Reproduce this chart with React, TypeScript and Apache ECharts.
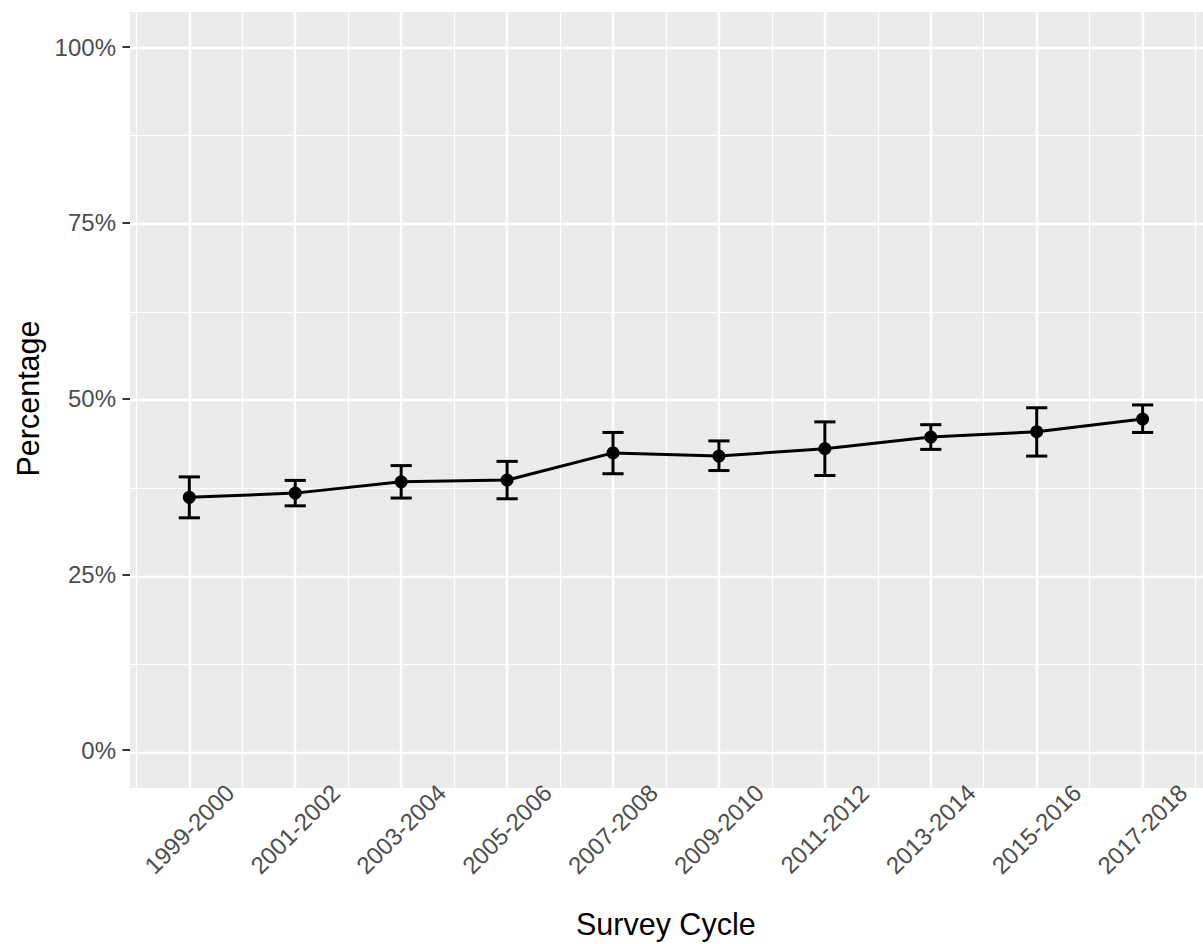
import React, { useEffect, useRef } from "react";
import * as echarts from "echarts";

// Survey cycles along the x axis
const cycles = [
  "1999-2000",
  "2001-2002",
  "2003-2004",
  "2005-2006",
  "2007-2008",
  "2009-2010",
  "2011-2012",
  "2013-2014",
  "2015-2016",
  "2017-2018",
];

// Estimated percentage per cycle with its confidence interval
const estimate = [36.2, 36.8, 38.4, 38.65, 42.5, 42.05, 43.1, 44.75, 45.5, 47.3];
const lower = [33.3, 35.0, 36.1, 36.0, 39.55, 40.0, 39.3, 43.0, 42.05, 45.4];
const upper = [39.1, 38.6, 40.7, 41.3, 45.4, 44.2, 46.9, 46.5, 48.9, 49.3];

// Axis breaks
const yMajor = [0, 25, 50, 75, 100];
const yMinor = [12.5, 37.5, 62.5, 87.5];

const FONT = "'Liberation Sans', Arial, Helvetica, sans-serif";

export default function App() {
  const ref = useRef<HTMLDivElement>(null);

  useEffect(() => {
    if (!ref.current) return;
    const chart = echarts.init(ref.current, undefined, { renderer: "svg" });

    const xPos = cycles.map((_, i) => i + 1);
    const xMajor = xPos;
    const xMinor = [0, ...xPos].map((v) => v + 0.5);

    const pointData = xPos.map((x, i) => [x, estimate[i]]);
    const barData = xPos.map((x, i) => [x, lower[i], upper[i]]);

    const major = { color: "#ffffff", width: 2.4, type: "solid" as const };
    const minor = { color: "#ffffff", width: 1.2, type: "solid" as const };

    const gridLines = [
      ...yMinor.map((v) => ({ yAxis: v, lineStyle: minor })),
      ...xMinor.map((v) => ({ xAxis: v, lineStyle: minor })),
      ...yMajor.map((v) => ({ yAxis: v, lineStyle: major })),
      ...xMajor.map((v) => ({ xAxis: v, lineStyle: major })),
    ];

    const capHalf = 0.1;

    chart.setOption({
      animation: false,
      textStyle: { fontFamily: FONT },
      grid: [
        {
          left: 130,
          top: 12,
          width: 1073,
          height: 776,
          show: true,
          backgroundColor: "#EBEBEB",
          borderWidth: 0,
        },
        {
          left: 136.35,
          top: 47,
          width: 1058.9,
          height: 705.3,
          show: false,
        },
      ],
      xAxis: [
        { type: "value", gridIndex: 0, min: 0.44, max: 10.57, show: false },
        {
          type: "category",
          gridIndex: 1,
          data: cycles,
          boundaryGap: true,
          offset: 36,
          axisLine: { show: false },
          axisTick: {
            show: true,
            alignWithLabel: true,
            length: 7.6,
            lineStyle: { color: "#333333", width: 2 },
          },
          axisLabel: {
            rotate: 45,
            align: "center",
            verticalAlign: "middle",
            margin: 43,
            fontSize: 24,
            color: "#4D4D4D",
            fontFamily: FONT,
            interval: 0,
          },
          splitLine: { show: false },
          name: "Survey Cycle",
          nameLocation: "middle",
          nameGap: 122,
          nameTextStyle: { fontSize: 30.5, color: "#000000", fontFamily: FONT },
        },
      ],
      yAxis: [
        { type: "value", gridIndex: 0, min: -5, max: 105, show: false },
        {
          type: "value",
          gridIndex: 1,
          min: 0,
          max: 100,
          interval: 25,
          offset: 6.35,
          axisLine: { show: false },
          axisTick: {
            show: true,
            length: 7.6,
            lineStyle: { color: "#333333", width: 2 },
          },
          axisLabel: {
            formatter: "{value}%",
            margin: 14,
            fontSize: 24,
            color: "#4D4D4D",
            fontFamily: FONT,
          },
          splitLine: { show: false },
          name: "Percentage",
          nameLocation: "middle",
          nameGap: 82,
          nameTextStyle: { fontSize: 30.5, color: "#000000", fontFamily: FONT },
        },
      ],
      series: [
        {
          type: "line",
          xAxisIndex: 0,
          yAxisIndex: 0,
          data: [],
          z: 1,
          silent: true,
          markLine: {
            z: 1,
            silent: true,
            symbol: ["none", "none"],
            label: { show: false },
            data: gridLines,
          },
        },
        {
          type: "line",
          xAxisIndex: 0,
          yAxisIndex: 0,
          data: pointData,
          z: 9,
          symbol: "circle",
          symbolSize: 13,
          showSymbol: true,
          lineStyle: { color: "#000000", width: 3 },
          itemStyle: { color: "#000000", borderWidth: 0 },
        },
        {
          type: "custom",
          xAxisIndex: 0,
          yAxisIndex: 0,
          data: barData,
          z: 10,
          encode: { x: 0, y: [1, 2] },
          renderItem: (_params: any, api: any) => {
            const x = api.value(0);
            const lo = api.value(1);
            const hi = api.value(2);
            const top = api.coord([x, hi]);
            const bot = api.coord([x, lo]);
            const tl = api.coord([x - capHalf, hi]);
            const tr = api.coord([x + capHalf, hi]);
            const bl = api.coord([x - capHalf, lo]);
            const br = api.coord([x + capHalf, lo]);
            const style = { stroke: "#000000", lineWidth: 3 };
            return {
              type: "group",
              children: [
                { type: "line", shape: { x1: top[0], y1: top[1], x2: bot[0], y2: bot[1] }, style },
                { type: "line", shape: { x1: tl[0], y1: tl[1], x2: tr[0], y2: tr[1] }, style },
                { type: "line", shape: { x1: bl[0], y1: bl[1], x2: br[0], y2: br[1] }, style },
              ],
            };
          },
        },
      ],
    });

    return () => {
      chart.dispose();
    };
  }, []);

  return (
    <div
      ref={ref}
      style={{
        position: "fixed",
        left: 0,
        top: 0,
        width: 1203,
        height: 944,
        background: "#ffffff",
      }}
    />
  );
}
